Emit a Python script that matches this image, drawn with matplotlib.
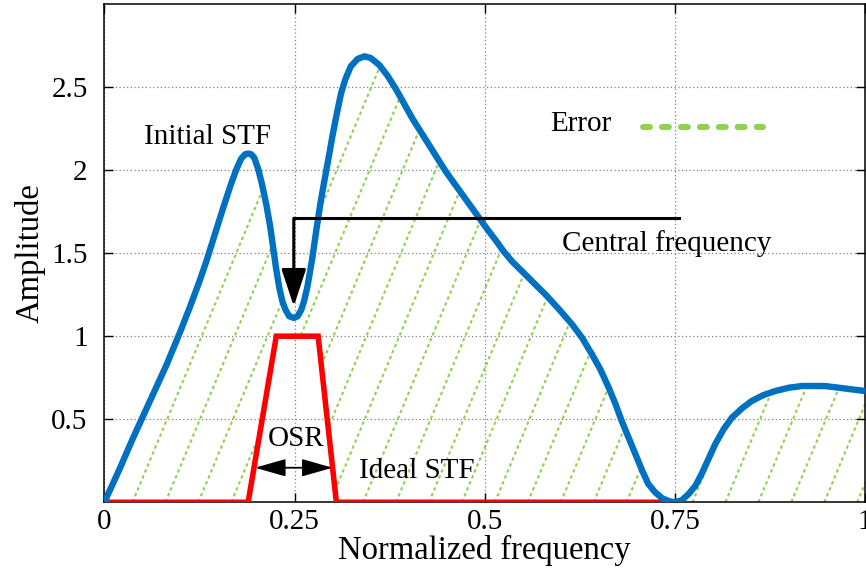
import numpy as np
import matplotlib
matplotlib.use('Agg')
import matplotlib.pyplot as plt
from matplotlib.patches import Polygon

plt.rcParams['font.family'] = ['Liberation Serif', 'DejaVu Serif']

# STF inicial
stf_x = [0.0, 0.02, 0.038, 0.06, 0.082, 0.1, 0.112, 0.125, 0.134, 0.145, 0.156, 0.166,
         0.174, 0.18, 0.185, 0.189, 0.193, 0.197, 0.202, 0.207, 0.213, 0.218, 0.222,
         0.226, 0.23, 0.234, 0.238, 0.243, 0.249, 0.254, 0.259, 0.263, 0.267, 0.273,
         0.279, 0.284, 0.289, 0.295, 0.3, 0.306, 0.311, 0.317, 0.324, 0.333, 0.342,
         0.35, 0.361, 0.372, 0.383, 0.394, 0.405, 0.416, 0.427, 0.438, 0.449, 0.46,
         0.471, 0.482, 0.493, 0.504, 0.514, 0.525, 0.536, 0.558, 0.58, 0.598, 0.615,
         0.628, 0.641, 0.652, 0.663, 0.672, 0.68, 0.689, 0.698, 0.707, 0.715, 0.724,
         0.733, 0.742, 0.75, 0.759, 0.768, 0.777, 0.785, 0.794, 0.803, 0.814, 0.825,
         0.838, 0.851, 0.866, 0.882, 0.9, 0.917, 0.932, 0.947, 0.965, 0.982, 1.0]
stf_y = [0.0, 0.2, 0.39, 0.61, 0.83, 1.03, 1.17, 1.33, 1.45, 1.61, 1.77, 1.91,
         2.01, 2.07, 2.095, 2.1, 2.095, 2.075, 2.01, 1.92, 1.79, 1.66, 1.53,
         1.4, 1.29, 1.21, 1.16, 1.12, 1.11, 1.12, 1.16, 1.22, 1.3, 1.46,
         1.65, 1.8, 1.93, 2.08, 2.21, 2.35, 2.46, 2.55, 2.625, 2.67, 2.685,
         2.675, 2.635, 2.57, 2.49, 2.4, 2.31, 2.23, 2.15, 2.07, 1.99, 1.92,
         1.85, 1.78, 1.71, 1.64, 1.58, 1.51, 1.45, 1.35, 1.25, 1.16, 1.07,
         0.99, 0.89, 0.8, 0.69, 0.59, 0.49, 0.39, 0.29, 0.19, 0.11, 0.06,
         0.025, 0.007, 0.0, 0.012, 0.05, 0.1, 0.17, 0.26, 0.35, 0.44, 0.51,
         0.565, 0.61, 0.645, 0.67, 0.69, 0.7, 0.7, 0.7, 0.69, 0.68, 0.67]

# STF ideal
ideal_x = [0.0, 0.189, 0.226, 0.281, 0.305, 0.75]
ideal_y = [0.0, 0.0, 1.0, 1.0, 0.0, 0.0]

xticks = [0, 0.25, 0.5, 0.75, 1]
xtick_labels = ['0', '0.25', '0.5', '0.75', '1']
yticks = [0.5, 1, 1.5, 2, 2.5]

green = '#92d050'
blue = '#0070c0'

fig = plt.figure(figsize=(8.66, 5.76), dpi=100)
ax = fig.add_axes([0.1205, 0.128, 0.8785, 0.865])
ax.set_xlim(0, 1)
ax.set_ylim(0, 3)

# area de erro entre as duas curvas, hachurada
lower_x = list(ideal_x) + [1.0]
lower_y = list(ideal_y) + [0.0]
verts = np.column_stack([stf_x + lower_x[::-1], stf_y + lower_y[::-1]])
poly = Polygon(verts, closed=True, facecolor='none', edgecolor='none')
ax.add_patch(poly)
slope = 11.0
for x0 in np.arange(0.037 - 0.0433 * 8, 1.05, 0.0433):
    ln, = ax.plot([x0, x0 + 3 / slope], [0, 3], color=green, lw=1.5,
                  ls=(0, (1.6, 1.5)), zorder=1)
    ln.set_clip_path(poly)

ax.plot(ideal_x, ideal_y, color='#ff0000', lw=4.0, zorder=3, solid_joinstyle='miter')
ax.plot(stf_x, stf_y, color=blue, lw=4.6, zorder=4, solid_joinstyle='round')

# legenda
ax.text(0.667, 2.28, 'Error', fontsize=21, ha='right', va='center')
ax.plot([0.7076, 0.866], [2.257, 2.257], color=green, lw=4.3,
        ls=(0, (1.17, 2.0)), solid_capstyle='round', dash_capstyle='round')

# textos e setas
ax.text(0.136, 2.20, 'Initial STF', fontsize=21, ha='center', va='center')
ax.text(0.739, 1.56, 'Central frequency', fontsize=21, ha='center', va='center')
ax.text(0.252, 0.38, 'OSR', fontsize=21, ha='center', va='center')
ax.text(0.411, 0.19, 'Ideal STF', fontsize=21, ha='center', va='center')

ax.plot([0.755, 0.249], [1.71, 1.71], color='black', lw=2.2, zorder=5,
        solid_joinstyle='miter')
ax.annotate('', xy=(0.249, 1.18), xytext=(0.249, 1.71),
            arrowprops=dict(arrowstyle='-|>,head_length=2.3,head_width=0.76',
                            mutation_scale=10, color='black', lw=2.2,
                            shrinkA=0, shrinkB=0), zorder=5)
ax.annotate('', xy=(0.198, 0.208), xytext=(0.300, 0.208),
            arrowprops=dict(arrowstyle='<|-|>,head_length=1.9,head_width=0.54',
                            mutation_scale=10, color='black', lw=1.3,
                            shrinkA=0, shrinkB=0), zorder=5)

ax.set_xticks(xticks)
ax.set_xticklabels(xtick_labels)
ax.set_yticks(yticks)
ax.set_yticklabels(['0.5', '1', '1.5', '2', '2.5'])
ax.tick_params(direction='in', length=6.5, width=1, labelsize=21,
               top=True, right=True)
ax.tick_params(axis='y', pad=12)
ax.tick_params(axis='x', pad=5)
ax.grid(True, color='#808080', ls=(0, (1, 2)), lw=0.9)
for s in ax.spines.values():
    s.set_linewidth(1.1)

ax.set_xlabel('Normalized frequency', fontsize=23.5, labelpad=0)
ax.set_ylabel('Amplitude', fontsize=23.5, labelpad=4)

fig.savefig('out.png', dpi=100)
